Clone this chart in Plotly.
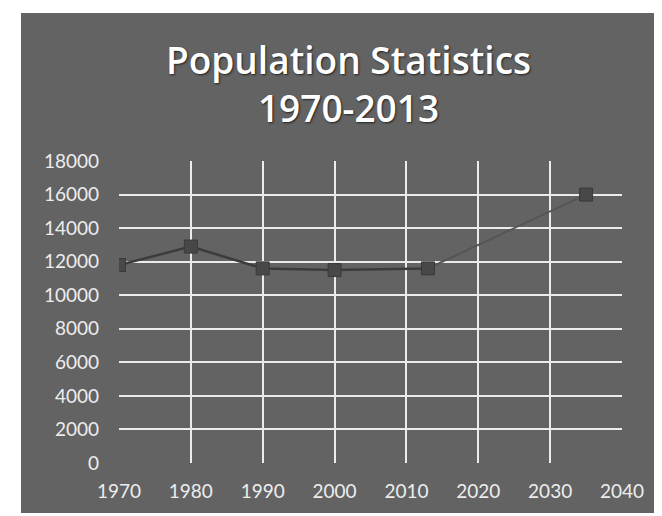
import plotly.graph_objects as go

years = [1970, 1980, 1990, 2000, 2013, 2035]
population = [11800, 12900, 11600, 11500, 11600, 16000]
x_ticks = [1970, 1980, 1990, 2000, 2010, 2020, 2030, 2040]
y_ticks = [0, 2000, 4000, 6000, 8000, 10000, 12000, 14000, 16000, 18000]
title_lines = ["Population Statistics", "1970-2013"]

BG = "#636363"
GRID = "#ebebeb"
LINE = "#3c3c3c"
MARK = "#484848"
TXT = "#ededed"

fig = go.Figure()
# invisible trace to anchor the grid axes
fig.add_trace(go.Scatter(x=[1970], y=[0], xaxis="x2", yaxis="y2", mode="markers",
                         marker=dict(opacity=0), hoverinfo="skip", showlegend=False))
# projected segment (faint)
fig.add_trace(go.Scatter(
    x=years[4:6], y=population[4:6], mode="lines",
    line=dict(color="#555555", width=2), hoverinfo="skip", showlegend=False))
# observed series
fig.add_trace(go.Scatter(
    x=years[:5], y=population[:5], mode="lines+markers",
    line=dict(color=LINE, width=2.5),
    marker=dict(symbol="square", size=13, color=MARK, line=dict(color="#3a3a3a", width=1)),
    showlegend=False))
fig.add_trace(go.Scatter(
    x=years[5:], y=population[5:], mode="markers",
    marker=dict(symbol="square", size=13, color=MARK, line=dict(color="#3a3a3a", width=1)),
    showlegend=False))

fig.update_layout(
    width=662, height=516,
    paper_bgcolor="white", plot_bgcolor=BG,
    margin=dict(l=111, r=48, t=153, b=61),
    font=dict(family="Lato, Open Sans, sans-serif", color=TXT),
    shapes=[dict(type="rect", xref="paper", yref="paper", layer="below",
                 x0=-98 / 503, x1=1 + 41 / 503, y0=-50 / 302, y1=1 + 148 / 302,
                 fillcolor=BG, line=dict(width=0))],
    annotations=[dict(text="<br>".join(title_lines), xref="paper", yref="paper",
                      x=(340 - 111) / 503, y=1 + (153 - 24) / 302,
                      xanchor="center", yanchor="top", showarrow=False,
                      font=dict(family="Open Sans, Lato, sans-serif", size=37,
                                color="white", weight=600, shadow="1px 1px 2px #222"))],
    xaxis=dict(range=[1970, 2040], tickvals=x_ticks, ticktext=[str(v) for v in x_ticks],
               showgrid=False, zeroline=False, showline=False, ticks="",
               ticklabelstandoff=15, tickfont=dict(size=19, color=TXT)),
    yaxis=dict(range=[0, 18000], tickvals=y_ticks, ticktext=[str(v) for v in y_ticks],
               showgrid=False, zeroline=False, showline=False, ticks="",
               ticklabelstandoff=19, tickfont=dict(size=19, color=TXT)),
    xaxis2=dict(overlaying="x", matches="x", range=[1970, 2040], tickvals=x_ticks[1:],
                showticklabels=False, showgrid=True, gridcolor=GRID, gridwidth=2,
                zeroline=False, showline=False),
    yaxis2=dict(overlaying="y", matches="y", range=[0, 18000], tickvals=y_ticks[1:],
                showticklabels=False, showgrid=True, gridcolor=GRID, gridwidth=2,
                zeroline=False, showline=False),
)

fig.write_html("out.html")
